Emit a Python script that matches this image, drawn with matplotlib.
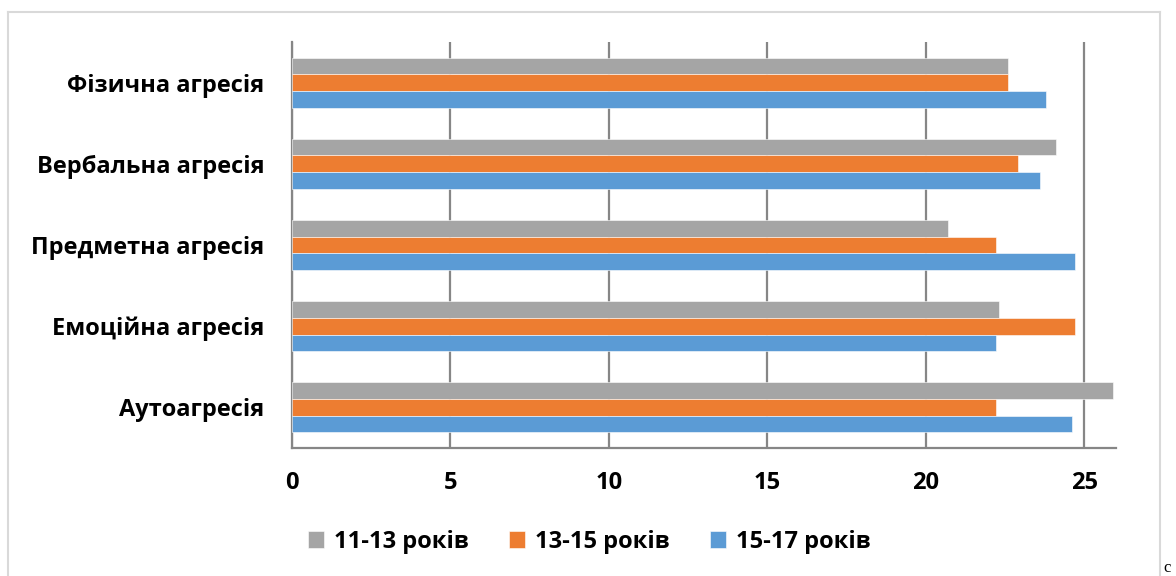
import matplotlib.pyplot as plt
import numpy as np
from matplotlib.lines import Line2D

categories = ['Фізична агресія', 'Вербальна агресія', 'Предметна агресія',
              'Емоційна агресія', 'Аутоагресія']
series = ['11-13 років', '13-15 років', '15-17 років']
v_11_13 = [22.6, 24.1, 20.7, 22.3, 25.9]
v_13_15 = [22.6, 22.9, 22.2, 24.7, 22.2]
v_15_17 = [23.8, 23.6, 24.7, 22.2, 24.6]
colors = ['#A5A5A5', '#ED7D31', '#5B9BD5']

plt.rcParams['font.family'] = ['Open Sans', 'DejaVu Sans']
plt.rcParams['font.weight'] = 'bold'

W, H = 1176, 576
fig = plt.figure(figsize=(W / 100, H / 100), dpi=100)
ax = fig.add_axes([292 / W, 1 - 448 / H, (1116 - 292) / W, (448 - 42) / H])

y = np.arange(len(categories))
h = 0.205
for k, (vals, name, c) in enumerate(zip([v_11_13, v_13_15, v_15_17], series, colors)):
    ax.barh(y + (k - 1) * h, vals, height=h, color=c, edgecolor='white',
            linewidth=0.4, label=name, zorder=3)

fs = 17
ax.set_xlim(0, 26)
ax.set_ylim(len(categories) - 0.5, -0.5)
ax.set_xticks([0, 5, 10, 15, 20, 25])
ax.set_yticks(y)
ax.set_yticklabels(categories, fontsize=fs, fontweight='bold')
ax.tick_params(axis='x', length=0, pad=16.5, labelsize=fs)
ax.tick_params(axis='y', length=0, pad=20)
ax.grid(axis='x', color='#868686', linewidth=1.6, zorder=0)
for s in ['top', 'right']:
    ax.spines[s].set_visible(False)
for s in ['left', 'bottom']:
    ax.spines[s].set_color('#868686')
    ax.spines[s].set_linewidth(1.6)

leg = fig.legend(loc='center', bbox_to_anchor=(589 / W, 1 - 542 / H), ncol=3,
                 frameon=False, fontsize=fs, handlelength=0.7, handleheight=0.7,
                 handletextpad=0.4, columnspacing=1.7)

# outer chart border (bottom edge is cut off in the image)
bc = '#D9D9D9'
fig.add_artist(Line2D([8 / W, 8 / W], [0, 1 - 12 / H], color=bc, lw=1.5))
fig.add_artist(Line2D([8 / W, 1160 / W], [1 - 12 / H, 1 - 12 / H], color=bc, lw=1.5))
fig.add_artist(Line2D([1160 / W, 1160 / W], [0, 1 - 12 / H], color=bc, lw=1.5))
fig.text(1163 / W, 0, 'с', fontsize=12, fontweight='normal',
         family=['Liberation Serif', 'DejaVu Serif'], ha='left', va='bottom')

fig.savefig('out.png', dpi=100)
